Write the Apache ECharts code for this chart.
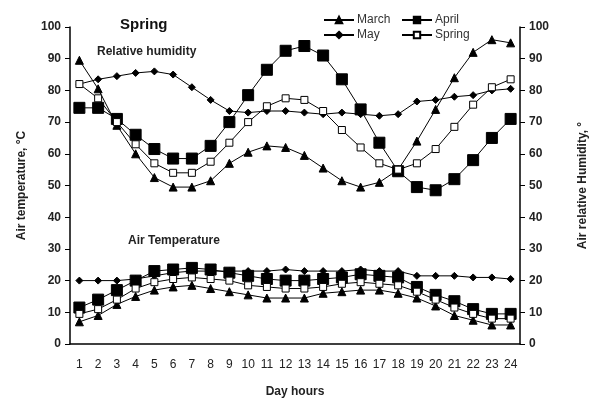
<!DOCTYPE html>
<html>
<head>
<meta charset="utf-8">
<script src="https://cdn.jsdelivr.net/npm/echarts@6/dist/echarts.min.js"></script>
<style>
  html, body { margin: 0; padding: 0; background: #fff; }
  #spring-chart { width: 593px; height: 398px; }
</style>
</head>
<body>
<div id="spring-chart"></div>
<script>
  const hours = ['1','2','3','4','5','6','7','8','9','10','11','12','13','14','15','16','17','18','19','20','21','22','23','24'];

  // relative humidity, %
  const rhMarch  = [89.5, 80.5, 69, 60, 52.5, 49.5, 49.5, 51.5, 57, 60.5, 62.5, 62, 59.5, 55.5, 51.5, 49.5, 51, 55, 64, 74, 84, 92, 96, 95];
  const rhApril  = [74.5, 74.5, 71, 66, 61.5, 58.5, 58.5, 62.5, 70, 78.5, 86.5, 92.5, 94, 91, 83.5, 74, 63.5, 54.5, 49.5, 48.5, 52, 58, 65, 71];
  const rhMay    = [82, 83.5, 84.5, 85.5, 86, 85, 81, 77, 73.5, 73, 73.5, 73.5, 73, 72.5, 73, 72.5, 72, 72.5, 76.5, 77, 78, 78.5, 80, 80.5];
  const rhSpring = [82, 77.5, 70, 63, 57, 54, 54, 57.5, 63.5, 70, 75, 77.5, 77, 73.5, 67.5, 62, 57, 55, 57, 61.5, 68.5, 75.5, 81, 83.5];

  // air temperature, °C
  const taMarch  = [7, 9, 12.5, 15, 17, 18, 18.5, 17.5, 16.5, 15.5, 14.5, 14.5, 14.5, 16, 16.5, 17, 17, 16, 14.5, 12, 9, 7.5, 6, 6];
  const taApril  = [11.5, 14, 17, 20, 23, 23.5, 24, 23.5, 22.5, 21.5, 20.5, 20, 20, 20.5, 21, 22, 21.5, 21, 18, 15.5, 13.5, 11, 9.5, 9.5];
  const taMay    = [20, 20, 20, 20.5, 21.5, 22.5, 23, 23, 23, 23, 23, 23.5, 23, 23, 23, 23.5, 23, 23, 21.5, 21.5, 21.5, 21, 21, 20.5];
  const taSpring = [9.5, 11, 14, 17.5, 19.5, 20.5, 21, 20.5, 20, 18.5, 18, 17.5, 17.5, 18, 19, 19.5, 19, 18.5, 16.5, 14, 11.5, 9.5, 8, 8];

  const yTicks = { min: 0, max: 100, interval: 10 };

  const font = 'Arial, "Liberation Sans", sans-serif';

  const marks = {
    March:  { symbol: 'triangle', symbolSize: 8, color: '#000' },
    April:  { symbol: 'rect', symbolSize: 11, color: '#000' },
    May:    { symbol: 'diamond', symbolSize: 7, color: '#000' },
    Spring: { symbol: 'rect', symbolSize: 7, color: '#fff' }
  };

  function build_serie(name, data, axisIndex) {
    const m = marks[name];
    return {
      name: name,
      type: 'line',
      yAxisIndex: axisIndex,
      data: data,
      symbol: m.symbol,
      symbolSize: m.symbolSize,
      showAllSymbol: true,
      lineStyle: { color: '#000', width: 1 },
      itemStyle: { color: m.color, borderColor: '#000', borderWidth: 1 },
      emphasis: { disabled: true }
    };
  }

  const series = [
    build_serie('March', rhMarch, 1),
    build_serie('April', rhApril, 1),
    build_serie('May', rhMay, 1),
    build_serie('Spring', rhSpring, 1),
    build_serie('March', taMarch, 0),
    build_serie('April', taApril, 0),
    build_serie('May', taMay, 0),
    build_serie('Spring', taSpring, 0)
  ];

  const legendBase = {
    orient: 'vertical',
    top: 9,
    itemWidth: 30,
    itemHeight: 8,
    itemGap: 3,
    selectedMode: false,
    textStyle: { fontFamily: font, fontSize: 12, color: '#333', padding: [0, 0, 0, -2] }
  };

  const option = {
    animation: false,
    title: {
      text: 'Spring',
      left: 115,
      top: 12,
      textStyle: { fontFamily: font, fontSize: 15, fontWeight: 'bold', color: '#111' }
    },
    legend: [
      Object.assign({ left: 318, data: ['March', 'May'] }, legendBase),
      Object.assign({ left: 396, data: ['April', 'Spring'] }, legendBase)
    ],
    graphic: [
      { type: 'text', left: 97, top: 46, style: { text: 'Relative humidity', font: 'bold 12px ' + font, fill: '#222' } },
      { type: 'text', left: 128, top: 235, style: { text: 'Air Temperature', font: 'bold 12px ' + font, fill: '#222' } }
    ],
    grid: { left: 70, right: 73, top: 27, bottom: 54, containLabel: false, outerBoundsMode: 'none' },
    xAxis: {
      type: 'category',
      data: hours,
      boundaryGap: true,
      name: 'Day hours',
      nameLocation: 'middle',
      nameGap: 42,
      nameTextStyle: { fontFamily: font, fontSize: 12, fontWeight: 'bold', color: '#222' },
      axisLine: { lineStyle: { color: '#000', width: 1.5 } },
      axisTick: { alignWithLabel: false, length: 5, lineStyle: { color: '#000' } },
      axisLabel: { interval: 0, margin: 15, fontFamily: font, fontSize: 12, color: '#222' },
      splitLine: { show: false }
    },
    yAxis: [
      Object.assign({
        type: 'value',
        position: 'left',
        name: 'Air temperature, °C',
        nameLocation: 'middle',
        nameRotate: 90,
        nameGap: 42,
        nameTextStyle: { fontFamily: font, fontSize: 12, fontWeight: 'bold', color: '#222' },
        axisLine: { show: true, lineStyle: { color: '#000', width: 1.5 } },
        axisTick: { show: true, length: 5, lineStyle: { color: '#000' } },
        axisLabel: { fontFamily: font, fontSize: 12, fontWeight: 'bold', color: '#222', margin: 9 },
        splitLine: { show: false }
      }, yTicks),
      Object.assign({
        type: 'value',
        position: 'right',
        name: 'Air relative Humidity, °',
        nameLocation: 'middle',
        nameRotate: 90,
        nameGap: 57,
        nameTextStyle: { fontFamily: font, fontSize: 12, fontWeight: 'bold', color: '#222' },
        axisLine: { show: true, lineStyle: { color: '#000', width: 1.5 } },
        axisTick: { show: true, length: 5, lineStyle: { color: '#000' } },
        axisLabel: { fontFamily: font, fontSize: 12, fontWeight: 'bold', color: '#222', margin: 9 },
        splitLine: { show: false }
      }, yTicks)
    ],
    series: series
  };

  const springChart = echarts.init(document.getElementById('spring-chart'));
  springChart.setOption(option);
</script>
</body>
</html>
